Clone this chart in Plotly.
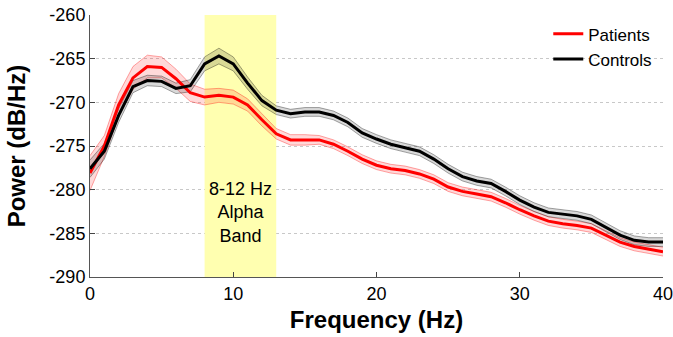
import plotly.graph_objects as go

freq = list(range(0, 41))
patients = [-278.1, -275.0, -270.3, -267.2, -265.9, -266.0, -267.3, -268.9, -269.4, -269.2,
            -269.4, -270.3, -272.0, -273.6, -274.3, -274.3, -274.3, -274.8, -275.6, -276.5,
            -277.2, -277.6, -277.8, -278.2, -278.8, -279.7, -280.2, -280.5, -280.8, -281.5,
            -282.3, -283.0, -283.6, -283.9, -284.1, -284.4, -285.2, -286.0, -286.5, -286.8, -287.1]
controls = [-277.6, -275.6, -271.5, -268.2, -267.5, -267.6, -268.4, -268.1, -265.6, -264.7,
            -265.6, -267.8, -269.8, -270.9, -271.3, -271.1, -271.1, -271.5, -272.3, -273.5,
            -274.2, -274.8, -275.2, -275.6, -276.5, -277.6, -278.5, -279.0, -279.3, -280.2,
            -281.2, -282.0, -282.6, -282.8, -283.0, -283.4, -284.3, -285.2, -285.8, -286.0, -286.0]
patients_sem = [2.0, 1.2, 1.3, 1.3, 1.3, 1.2, 1.1, 1.0, 0.9, 0.8,
                0.8, 0.7, 0.7, 0.6, 0.6, 0.6, 0.5, 0.5, 0.5, 0.5,
                0.5, 0.5, 0.5, 0.5, 0.5, 0.5, 0.5, 0.5, 0.5, 0.5,
                0.5, 0.5, 0.5, 0.5, 0.5, 0.5, 0.5, 0.5, 0.5, 0.5, 0.5]
controls_sem = [1.0, 0.9, 0.8, 0.7, 0.6, 0.6, 0.6, 0.7, 0.8, 0.9,
                0.8, 0.7, 0.6, 0.5, 0.5, 0.5, 0.5, 0.5, 0.5, 0.5,
                0.5, 0.5, 0.5, 0.5, 0.5, 0.5, 0.5, 0.5, 0.5, 0.5,
                0.5, 0.5, 0.5, 0.5, 0.5, 0.5, 0.5, 0.5, 0.5, 0.5, 0.5]
band_range = [8, 13]
band_label = "8-12 Hz<br>Alpha<br>Band"
x_ticks = [0, 10, 20, 30, 40]
y_ticks = [-260, -265, -270, -275, -280, -285, -290]
y_ticktext = ["-260", "-265", "-270", "-275", "-280", "-285", "-290"]

FONT = "Arial, Liberation Sans, sans-serif"
fig = go.Figure()

def add_band(y, sem, fill, edge):
    up = [a + b for a, b in zip(y, sem)]
    lo = [a - b for a, b in zip(y, sem)]
    fig.add_trace(go.Scatter(x=freq, y=up, mode="lines", line=dict(color=edge, width=1),
                             showlegend=False, hoverinfo="skip"))
    fig.add_trace(go.Scatter(x=freq, y=lo, mode="lines", line=dict(color=edge, width=1),
                             fill="tonexty", fillcolor=fill, showlegend=False, hoverinfo="skip"))

add_band(patients, patients_sem, "rgba(255,0,0,0.15)", "rgba(255,0,0,0.35)")
add_band(controls, controls_sem, "rgba(0,0,0,0.15)", "rgba(0,0,0,0.35)")

fig.add_trace(go.Scatter(x=freq, y=patients, mode="lines", name="Patients",
                         line=dict(color="#ff0000", width=3)))
fig.add_trace(go.Scatter(x=freq, y=controls, mode="lines", name="Controls",
                         line=dict(color="#000000", width=3)))

fig.add_shape(type="rect", xref="x", yref="y", x0=band_range[0], x1=band_range[1],
              y0=-290, y1=-260, fillcolor="rgb(255,255,176)", line=dict(width=0),
              layer="between")
fig.add_annotation(x=sum(band_range) / 2, y=-282.6, text=band_label, showarrow=False,
                   font=dict(family=FONT, size=18, color="black"))

fig.update_layout(
    width=673, height=337,
    margin=dict(l=90, r=10, t=15, b=60, autoexpand=False),
    paper_bgcolor="white", plot_bgcolor="white",
    font=dict(family=FONT, size=18, color="black"),
    legend=dict(x=0.99, y=0.995, xanchor="right", yanchor="top", traceorder="normal",
                bgcolor="rgba(0,0,0,0)", font=dict(size=17), tracegroupgap=0),
    xaxis=dict(range=[0, 40], tickvals=x_ticks, ticks="inside", ticklen=5, automargin=False,
               showline=True, linecolor="#555", linewidth=1, showgrid=False, zeroline=False,
               ticklabeloverflow="allow",
               title=dict(text="<b>Frequency (Hz)</b>", font=dict(size=24), standoff=8),
               tickfont=dict(size=18)),
    yaxis=dict(range=[-290, -260], tickvals=y_ticks, ticktext=y_ticktext, ticks="inside",
               ticklen=5, automargin=False,
               showline=True, linecolor="#555", linewidth=1, showgrid=True,
               gridcolor="#c8c8c8", griddash="dot", gridwidth=1, zeroline=False,
               title=dict(text="<b>Power (dB/Hz)</b>", font=dict(size=24), standoff=16),
               tickfont=dict(size=18)),
)

fig.write_html("out.html", config={"displayModeBar": False},
               post_script="document.body.style.margin='0';document.body.style.overflow='hidden';")
